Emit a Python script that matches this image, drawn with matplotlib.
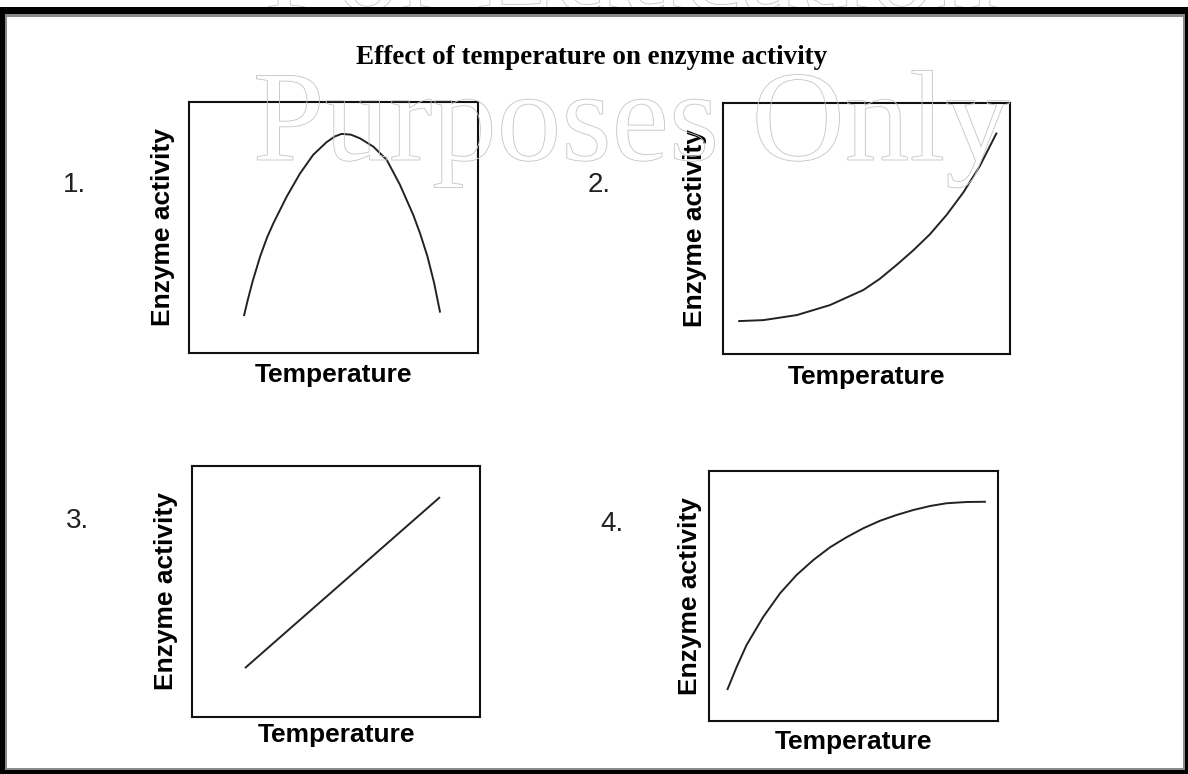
import matplotlib
matplotlib.use("Agg")
import matplotlib.pyplot as plt
from matplotlib.patches import Rectangle
import matplotlib.patheffects as pe

W, H = 1188, 774

# ---- data (arbitrary units 0-100) ----
title = "Effect of temperature on enzyme activity"
x_label = "Temperature"
y_label = "Enzyme activity"
panel_numbers = ["1.", "2.", "3.", "4."]

curve1_temp = [19.0, 20.3, 22.0, 24.6, 27.0, 29.2, 33.8, 38.4, 43.0, 47.6, 50.5, 52.8, 56.0, 59.2, 63.8, 68.4, 73.0, 77.6, 80.0, 82.5, 84.8, 86.9]
curve1_act = [14.7, 21.0, 28.5, 38.4, 46.0, 51.7, 62.3, 71.5, 79.0, 84.0, 86.3, 87.3, 87.0, 85.5, 82.2, 77.0, 67.0, 55.0, 47.5, 38.5, 28.0, 16.1]

curve2_temp = [5.3, 14.1, 25.7, 37.3, 48.9, 54.7, 60.5, 66.3, 72.1, 77.9, 83.7, 89.5, 95.4]
curve2_act = [13.1, 13.5, 15.5, 19.5, 25.5, 30.0, 35.5, 41.3, 47.7, 55.4, 64.3, 74.9, 88.2]

curve3_temp = [18.4, 86.1]
curve3_act = [19.5, 87.6]

curve4_temp = [6.3, 9.6, 13.0, 18.8, 24.6, 30.3, 36.1, 41.9, 47.6, 53.4, 59.2, 64.9, 70.7, 76.5, 82.2, 89.2, 95.8]
curve4_act = [12.4, 21.7, 30.4, 41.7, 51.1, 58.4, 64.4, 69.5, 73.5, 77.1, 80.1, 82.4, 84.4, 86.0, 87.1, 87.6, 87.7]

curves = [(curve1_temp, curve1_act), (curve2_temp, curve2_act),
          (curve3_temp, curve3_act), (curve4_temp, curve4_act)]

# ---- layout (pixels) ----
boxes = [(189, 102, 478, 353), (723, 103, 1010, 354),
         (192, 466, 480, 717), (709, 471, 998, 721)]
ylabel_x = [163, 695, 166, 690]
xlabel_base = [382, 384, 742, 749]
num_pos = [(63, 172), (588, 172), (66, 508), (600, 511)]

def fx(px):
    return px / W

def fy(py):
    return 1 - py / H

fig = plt.figure(figsize=(W / 100, H / 100), dpi=100)
fig.patch.set_facecolor("white")

line_col = "#222222"
for i, ((x0, y0, x1, y1), (t, a)) in enumerate(zip(boxes, curves)):
    ax = fig.add_axes([fx(x0), fy(y1), (x1 - x0) / W, (y1 - y0) / H])
    ax.plot(t, a, color=line_col, lw=1.4, solid_joinstyle="round",
            solid_capstyle="butt")
    ax.set_xlim(0, 100)
    ax.set_ylim(0, 100)
    ax.set_xticks([])
    ax.set_yticks([])
    for s in ax.spines.values():
        s.set_linewidth(1.5)
        s.set_color("#111111")
    cx = (x0 + x1) / 2
    cy = (y0 + y1) / 2
    fig.text(fx(cx), fy(xlabel_base[i]), x_label, ha="center", va="baseline",
             fontsize=19, fontweight="bold", family="Liberation Sans", color="#000000")
    fig.text(fx(ylabel_x[i]), fy(cy), y_label, ha="center", va="center", rotation=90,
             fontsize=19, fontweight="bold", family="Liberation Sans", color="#000000")
    nx, ny = num_pos[i]
    fig.text(fx(nx), fy(ny), panel_numbers[i], ha="left", va="top",
             fontsize=20, family="Liberation Sans", color="#222222")

fig.text(fx(592), fy(64), title, ha="center", va="baseline", fontsize=19.5,
         fontweight="bold", family="Liberation Serif", color="#000000")

# watermark (outlined text)
for txt, base in [("For Education", 10), ("Purposes Only", 160)]:
    fig.text(fx(631), fy(base), txt, ha="center", va="baseline", fontsize=93,
             family="Liberation Serif", color="none", zorder=5,
             path_effects=[pe.withStroke(linewidth=0.6, foreground="#c4c4c4")])

# window frame
def rect(x0, y0, x1, y1, c):
    fig.add_artist(Rectangle((fx(x0), fy(y1)), (x1 - x0) / W, (y1 - y0) / H,
                             transform=fig.transFigure, facecolor=c,
                             edgecolor="none", zorder=10))

rect(0, 7, W, 14, "#000000")
rect(5, 14, 1185, 17, "#8a8a8a")
rect(0, 7, 5, H, "#000000")
rect(5, 14, 7, 770, "#8a8a8a")
rect(1183, 14, 1185, 770, "#8a8a8a")
rect(1185, 7, W, H, "#000000")
rect(5, 768, 1185, 770, "#8a8a8a")
rect(0, 770, W, H, "#000000")

fig.savefig("out.png", dpi=100)
